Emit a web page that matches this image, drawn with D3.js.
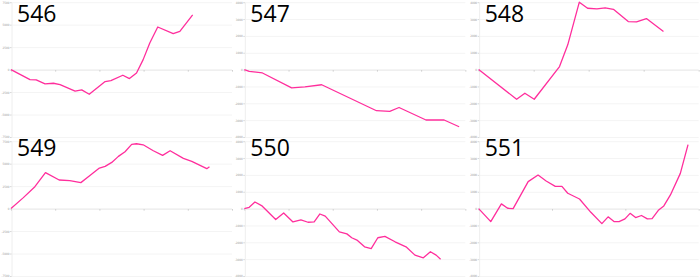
<!DOCTYPE html>
<html>
   <head>
      <script type="text/javascript" src="https://d3js.org/d3.v7.min.js"></script>
      <style>
         body { margin: 0; background: #fff; font-family: "Open Sans", Arial; }
      </style>
   </head>
   <body>
      <script>
         var width = 700;
         var height = 278;

         var names = ["546", "547", "548", "549", "550", "551"];

         var x546 = [0, 4.3, 5.7, 7.7, 9.6, 11.1, 14.5, 16.0, 17.7, 21.3, 22.6, 25.3, 26.8, 28.4, 29.9, 31.4, 33.2, 36.7, 38.2, 41.1];
         var y546 = [0, -1110, -1150, -1590, -1520, -1665, -2400, -2260, -2740, -1330, -1220, -630, -1000, -370, 1110, 2960, 4740, 4000, 4250, 6100];

         var x547 = [0, 1.1, 4.1, 10.7, 13.7, 17.5, 29.9, 32.9, 35, 41.1, 45.2, 48.6];
         var y547 = [0, -100, -200, -1080, -1020, -900, -2440, -2480, -2250, -2990, -2990, -3390];

         var x548 = [0, 6.9, 8.4, 10.1, 14.7, 16.2, 18.3, 19.8, 21.5, 23, 24.5, 27.2, 28.7, 30.5, 33.6];
         var y548 = [0, -1760, -1400, -1760, 180, 1470, 4000, 3640, 3600, 3660, 3580, 2850, 2830, 3030, 2260];

         var x549 = [0, 2.8, 5.4, 7.8, 10.9, 13.3, 15.8, 17.5, 20, 21.3, 22.8, 24.3, 25.8, 27.3, 28.4, 29.9, 32.2, 34.3, 36, 39, 40.9, 44.3, 44.9];
         var y549 = [0, 1220, 2440, 4000, 3180, 3110, 2890, 3550, 4510, 4700, 5140, 5810, 6330, 7140, 7215, 7100, 6440, 5920, 6440, 5590, 5250, 4440, 4660];

         var x550 = [0, 1.1, 2.4, 3.9, 7.1, 8.9, 11, 12.8, 14.4, 15.8, 17.1, 18.3, 21.5, 23.2, 24.3, 25.6, 27.2, 28.7, 30.2, 31.8, 34.1, 36.7, 38.6, 40.5, 42.1, 43.4, 44.4];
         var y550 = [0, 80, 390, 180, -650, -260, -790, -670, -810, -790, -320, -450, -1380, -1500, -1730, -1890, -2270, -2380, -1730, -1650, -1970, -2290, -2760, -2920, -2560, -2760, -3000];

         var x551 = [0, 3.3, 6.2, 7.9, 9.4, 13.5, 16.2, 18.4, 20.9, 22.7, 24.3, 27.5, 30.6, 33.6, 35.3, 36.9, 38.3, 39.9, 41.3, 42.8, 44.4, 46, 47.3, 49, 50.5, 52.3, 55, 57.1];
         var y551 = [0, -770, 280, 20, 0, 1600, 1990, 1640, 1320, 1320, 910, 570, -220, -890, -490, -770, -770, -610, -280, -530, -410, -610, -590, -100, 160, 810, 2090, 3800];

         var xs = [x546, x547, x548, x549, x550, x551];
         var ys = [y546, y547, y548, y549, y550, y551];

         // axis extents per panel
         var yMax = [7500, 4000, 4000, 7500, 4000, 4000];
         var yStep = [2500, 1000, 1000, 2500, 1000, 1000];
         var xMax = [50, 50, 40, 50, 50, 60];
         var xStep = [10, 10, 10, 10, 10, 20];

         var svg = d3.select("body")
            .append("svg")
            .attr("width", width)
            .attr("height", height);

         var panelW = width / 3;
         var panelH = 139;

         names.forEach(function(name, i) {
            var col = i % 3;
            var row = Math.floor(i / 3);
            var left = col == 2 ? 12 : 11;

            var g = svg.append("g")
               .attr("transform", "translate(" + (col * panelW) + "," + (row * panelH) + ")");

            var x = d3.scaleLinear()
               .domain([0, xMax[i]])
               .range([left, 232]);

            var y = d3.scaleLinear()
               .domain([-yMax[i], yMax[i]])
               .range([137, 2.2]);

            var yTicks = d3.range(-yMax[i], yMax[i] + 1, yStep[i]);
            var xTicks = d3.range(0, xMax[i] + 1, xStep[i]);

            // grid
            g.selectAll(".grid")
               .data(yTicks)
               .enter().append("line")
               .attr("x1", left)
               .attr("x2", 232)
               .attr("y1", function(d) { return y(d) + 0.5; })
               .attr("y2", function(d) { return y(d) + 0.5; })
               .attr("stroke", function(d) { return d == 0 ? "#e4e4e4" : "#f4f4f4"; })
               .attr("stroke-width", 1);

            var yAxis = g.append("g")
               .attr("transform", "translate(" + (left + 0.5) + ",0)")
               .call(d3.axisLeft(y)
                  .tickValues(yTicks)
                  .tickSize(1.5)
                  .tickPadding(0.6)
                  .tickFormat(function(d) { return String(d); }));
            yAxis.select(".domain").attr("stroke", "#eeeeee");
            yAxis.selectAll(".tick line").attr("stroke", "#d8d8d8");
            yAxis.selectAll("text")
               .attr("font-size", 3)
               .attr("font-family", "'Liberation Sans Narrow', 'DejaVu Sans Condensed', Arial")
               .attr("fill", "#999");

            var xAxis = g.append("g")
               .attr("transform", "translate(0," + (y(0) + 0.5) + ")")
               .call(d3.axisBottom(x).tickValues(xTicks).tickSize(1.5).tickFormat(""));
            xAxis.select(".domain").remove();
            xAxis.selectAll(".tick line").attr("stroke", "#cccccc");

            var line = d3.line()
               .x(function(d) { return x(d[0]); })
               .y(function(d) { return y(d[1]); });

            g.append("path")
               .datum(d3.zip(xs[i], ys[i]))
               .attr("d", line)
               .attr("fill", "none")
               .attr("stroke", "#ff2e9c")
               .attr("stroke-width", 1.3)
               .attr("stroke-linejoin", "round");

            g.append("text")
               .attr("x", col == 2 ? 18 : 17)
               .attr("y", row == 0 ? 22 : 17)
               .attr("font-size", 23)
               .attr("fill", "#000")
               .text(name);
         });
      </script>
   </body>
</html>
